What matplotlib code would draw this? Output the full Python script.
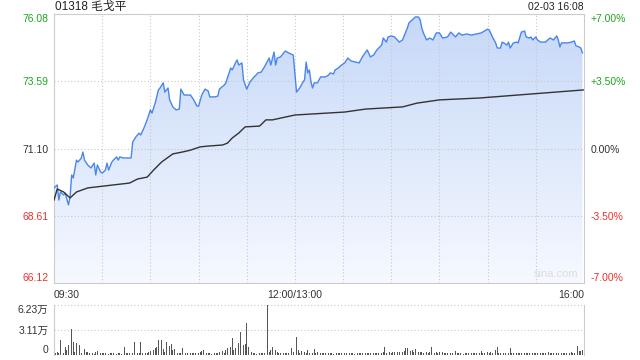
import numpy as np
import matplotlib
matplotlib.use("Agg")
from matplotlib import pyplot as plt

plt.rcParams['font.family'] = ['Liberation Sans', 'Noto Sans CJK SC', 'DejaVu Sans']

title = "01318 毛戈平"
stamp = "02-03 16:08"
prevClose = 71.10
priceTicks = [66.12, 68.61, 71.10, 73.59, 76.08]
pctLabels = ["-7.00%", "-3.50%", "0.00%", "+3.50%", "+7.00%"]
timeLabels = ["09:30", "12:00/13:00", "16:00"]

# minute index from 09:30 (lunch break removed), price
priceMin = [0, 2, 3, 4, 6, 7, 9, 10, 11, 12, 14, 15, 17, 18, 19, 21, 23, 25, 26, 27,
            29, 30, 32, 33, 34, 36, 37, 39, 40, 41, 43, 45, 48, 49, 51, 53, 54, 56, 58, 60,
            61, 63, 65, 66, 68, 69, 71, 72, 74, 76, 78, 79, 81, 85, 87, 89, 90, 92, 94, 96,
            97, 100, 102, 103, 106, 107, 110, 111, 113, 114, 115, 117, 118, 120, 122, 124, 127, 129, 131, 134,
            135, 137, 138, 139, 141, 143, 144, 146, 149, 151, 153, 155, 156, 157, 158, 159, 160, 161, 162, 164,
            166, 169, 171, 172, 174, 175, 177, 179, 181, 183, 185, 188, 190, 192, 195, 197, 199, 201, 204, 205,
            207, 208, 210, 212, 215, 217, 220, 221, 223, 225, 227, 228, 229, 230, 232, 234, 236, 238, 240, 242,
            245, 247, 250, 252, 254, 257, 260, 263, 266, 270, 271, 273, 275, 276, 278, 279, 280, 282, 283, 284,
            286, 288, 289, 291, 293, 294, 296, 297, 298, 300, 301, 303, 306, 308, 309, 311, 313, 314, 315, 316,
            318, 320, 322, 324, 325, 327, 328, 329]
price = [69.64, 69.75, 69.19, 69.49, 69.38, 69.45, 69.01, 69.30, 70.12, 70.01, 70.67, 70.60, 70.75, 70.97, 70.67, 70.49, 70.38, 70.56, 70.12, 70.49,
         70.23, 70.19, 70.30, 70.56, 70.30, 70.60, 70.67, 70.79, 70.67, 70.79, 70.75, 70.75, 70.75, 71.34, 71.53, 71.67, 71.60, 71.86, 72.16, 72.53,
         72.41, 72.78, 73.27, 73.34, 73.53, 73.19, 73.34, 72.90, 72.64, 72.53, 72.56, 73.30, 73.08, 73.08, 72.90, 72.67, 72.67, 73.08, 73.30, 73.23,
         73.01, 73.01, 73.04, 73.30, 73.45, 73.53, 74.08, 74.01, 74.27, 74.38, 74.19, 74.27, 73.64, 73.30, 73.56, 73.71, 73.90, 73.93, 74.12, 74.45,
         74.19, 74.67, 74.19, 74.45, 74.49, 74.64, 74.71, 74.64, 74.56, 73.19, 73.34, 73.56, 73.64, 74.30, 73.90, 74.01, 73.56, 73.34, 73.53, 73.53,
         73.75, 73.75, 73.82, 73.90, 73.86, 74.01, 74.08, 74.19, 74.27, 74.45, 74.34, 74.30, 74.27, 74.49, 74.75, 74.49, 74.56, 74.75, 74.93, 75.19,
         75.04, 75.23, 75.27, 75.23, 75.04, 75.12, 75.56, 75.75, 75.86, 75.97, 75.97, 75.86, 75.56, 75.38, 75.12, 75.19, 75.12, 75.38, 75.38, 75.19,
         75.23, 75.41, 75.23, 75.38, 75.30, 75.34, 75.30, 75.34, 75.38, 75.52, 75.49, 75.23, 75.01, 74.82, 74.82, 75.04, 75.01, 74.93, 75.04, 74.82,
         75.01, 75.04, 75.01, 75.41, 75.45, 75.23, 75.19, 75.23, 75.12, 75.23, 75.12, 75.04, 75.04, 75.15, 75.19, 75.12, 75.27, 75.12, 74.86, 75.01,
         75.01, 75.01, 75.04, 75.08, 74.90, 74.86, 74.82, 74.64]

avgMin = [0, 2, 6, 10, 14, 21, 31, 47, 52, 58, 62, 67, 74, 80, 85, 91, 96, 105, 108, 111,
          115, 119, 128, 132, 136, 150, 181, 194, 217, 226, 240, 265, 330]
avgPrice = [69.19, 69.60, 69.49, 69.27, 69.49, 69.64, 69.71, 69.82, 69.97, 70.04, 70.30, 70.60, 70.90, 70.97, 71.04, 71.16, 71.19, 71.23, 71.30, 71.49,
            71.67, 71.90, 71.93, 72.16, 72.16, 72.34, 72.45, 72.56, 72.64, 72.78, 72.90, 72.97, 73.27]

# volume per minute, in 万股
volume = [1.04, 0.3, 0.42, 0.2, 1.87, 0.3, 0.25, 0.95, 0.6, 1.2,
          4.36, 3.2, 1.66, 0.4, 1.54, 1.66, 1.25, 0.3, 0.2, 0.7,
          0.4, 0.37, 0.2, 0.5, 0.3, 0.15, 0.4, 0.45, 0.25, 0.2,
          0.3, 0.25, 0.2, 0.3, 0.15, 0.25, 0.3, 0.2, 0.25, 0.15,
          0.2, 0.3, 0.15, 0.2, 1.04, 0.25, 0.2, 0.3, 0.15, 0.3,
          1.62, 0.4, 0.25, 0.3, 1.66, 0.3, 0.25, 0.3, 0.2, 0.35,
          0.5, 0.54, 0.62, 0.83, 1.04, 1.87, 0.5, 1.87, 0.7, 0.4,
          1.66, 0.83, 1.12, 1.37, 0.6, 0.7, 0.3, 0.2, 0.25, 0.2,
          0.83, 0.25, 0.2, 0.3, 0.15, 0.25, 0.2, 0.3, 0.25, 0.2,
          0.3, 0.35, 0.54, 0.62, 0.5, 0.3, 0.2, 0.25, 0.15, 0.2,
          0.2, 0.3, 0.25, 0.35, 0.4, 0.54, 0.3, 0.62, 0.83, 0.4,
          1.04, 2.08, 0.62, 0.83, 0.4, 1.45, 2.91, 1.66, 1.25, 1.37,
          4.03, 1.04, 0.4, 0.33, 0.2, 0.25, 0.15, 0.2, 0.3, 0.2,
          0.25, 0.2, 0.3, 6.23, 0.4, 0.62, 1.04, 0.3, 0.62, 0.4,
          0.3, 0.2, 0.4, 0.3, 0.25, 0.3, 0.2, 0.35, 0.91, 0.4,
          0.62, 2.28, 0.62, 0.3, 0.5, 0.3, 0.4, 0.25, 0.62, 0.3,
          0.5, 0.3, 0.7, 0.3, 0.4, 0.25, 0.3, 0.2, 0.25, 0.3,
          0.2, 0.25, 0.3, 0.2, 0.15, 0.2, 0.25, 0.3, 0.2, 0.25,
          0.2, 0.3, 0.25, 1.16, 0.3, 0.2, 0.25, 0.15, 0.2, 0.25,
          0.3, 0.2, 0.25, 2.82, 0.3, 0.25, 0.2, 0.3, 0.25, 0.2,
          0.25, 0.3, 0.2, 0.25, 0.3, 0.35, 1.04, 0.3, 0.4, 0.35,
          0.3, 0.4, 0.35, 0.3, 0.4, 0.35, 0.45, 0.4, 0.5, 0.83,
          0.91, 0.83, 0.5, 0.62, 0.4, 0.75, 0.66, 0.4, 0.35, 0.4,
          0.3, 0.35, 0.4, 0.3, 0.35, 1.04, 0.4, 0.3, 0.35, 0.3,
          0.4, 0.3, 0.35, 0.3, 0.25, 0.3, 0.35, 0.3, 0.25, 0.3,
          0.5, 0.3, 0.2, 0.25, 0.2, 0.15, 0.2, 0.25, 0.2, 0.15,
          0.2, 0.25, 0.3, 0.2, 0.25, 0.3, 0.54, 0.3, 0.25, 0.3,
          0.35, 0.3, 0.4, 0.3, 0.35, 0.62, 1.04, 0.3, 0.2, 0.25,
          0.2, 0.25, 0.3, 0.25, 0.83, 0.3, 0.25, 0.2, 0.25, 0.2,
          0.3, 0.25, 1.99, 0.3, 0.25, 0.2, 0.25, 0.3, 0.2, 0.25,
          0.3, 0.25, 0.2, 0.3, 0.25, 0.2, 0.3, 0.25, 0.35, 0.3,
          0.25, 0.3, 0.2, 0.25, 0.3, 1.12, 0.3, 0.25, 0.2, 0.3,
          0.25, 0.3, 0.35, 0.3, 0.25, 0.3, 1.12, 0.54, 0.54, 0.6,
          2.28]
volMax = 6.23

green = "#1ea51e"
red = "#f0302c"
dark = "#333333"
grid = "#c8c8c8"

fig = plt.figure(figsize=(6.4, 3.6), dpi=100)
ax = fig.add_axes([54/640, 1-283/360, 530/640, 269/360])
axv = fig.add_axes([54/640, 1-355/360, 530/640, 50/360])

# price panel
ax.set_xlim(0, 330)
ax.set_ylim(priceTicks[0], priceTicks[-1])

poly = ax.fill_between(priceMin, price, priceTicks[0], color="none", lw=0)
top = np.array([198, 216, 248]) / 255
bot = np.array([246, 249, 255]) / 255
t = np.linspace(0, 1, 256)[:, None]
grad = (top * (1 - t) + bot * t).reshape(256, 1, 3)
im = ax.imshow(grad, extent=[0, 330, priceTicks[0], priceTicks[-1]], aspect="auto", zorder=1)
im.set_clip_path(poly.get_paths()[0], ax.transData)

ax.plot(priceMin, price, color="#4a86ec", lw=1, zorder=3)
ax.plot(avgMin, avgPrice, color="#333333", lw=1, zorder=3)

for m in range(30, 330, 30):
  ax.axvline(m, color=grid, lw=0.8, ls=(0, (1, 2)), zorder=2)
for p in priceTicks[1:-1]:
  ax.axhline(p, color=grid, lw=0.8, ls=(0, (1, 2)), zorder=2)

for s in ax.spines.values():
  s.set_color("#cccccc")

ax.set_yticks(priceTicks)
ax.set_yticklabels(["%.2f" % p for p in priceTicks])
ax.tick_params(axis="y", length=0, pad=4, labelsize=7.5)
ax.set_xticks([0, 150, 330])
ax.set_xticklabels(timeLabels)
ax.tick_params(axis="x", length=0, pad=5, labelsize=7.5, labelcolor=dark)
xl = ax.get_xticklabels()
xl[0].set_ha("left")
xl[2].set_ha("right")

cols = [red, red, dark, green, green]
yl = ax.get_yticklabels()
for lab, c in zip(yl, cols):
  lab.set_color(c)
yl[0].set_va("bottom")
yl[-1].set_va("top")

axr = ax.twinx()
axr.set_ylim(priceTicks[0], priceTicks[-1])
axr.set_yticks(priceTicks)
axr.set_yticklabels(pctLabels)
axr.tick_params(axis="y", length=0, pad=5, labelsize=7.5)
for s in axr.spines.values():
  s.set_visible(False)
rl = axr.get_yticklabels()
for lab, c in zip(rl, cols):
  lab.set_color(c)
rl[0].set_va("bottom")
rl[-1].set_va("top")

ax.text(0.99, 0.015, "sina.com", transform=ax.transAxes, ha="right", va="bottom",
        color="#dcdcdc", fontsize=8, zorder=4)

fig.text(55/640, 1-7/360, title, ha="left", va="center", fontsize=8.5, color="#222222")
fig.text(584/640, 1-7/360, stamp, ha="right", va="center", fontsize=7.5, color="#222222")

# volume panel
axv.bar(np.arange(len(volume)), volume, width=0.5, color="#555555", zorder=3)
axv.set_xlim(0, 330)
axv.set_ylim(0, volMax)
axv.axhline(volMax, color=grid, lw=0.8, ls=(0, (1, 2)), clip_on=False)
axv.axhline(volMax / 2, color=grid, lw=0.8, ls=(0, (1, 2)))
axv.spines["top"].set_visible(False)
axv.spines["bottom"].set_visible(False)
axv.spines["left"].set_color("#cccccc")
axv.spines["right"].set_color("#cccccc")
axv.set_xticks([])
axv.set_yticks([0, 3.11, volMax])
axv.set_yticklabels(["0", "3.11万", "6.23万"])
axv.tick_params(axis="y", length=0, pad=4, labelsize=7.5, labelcolor=dark)
vl = axv.get_yticklabels()
vl[0].set_va("bottom")
vl[-1].set_va("top")

fig.savefig("out.png", dpi=100)
